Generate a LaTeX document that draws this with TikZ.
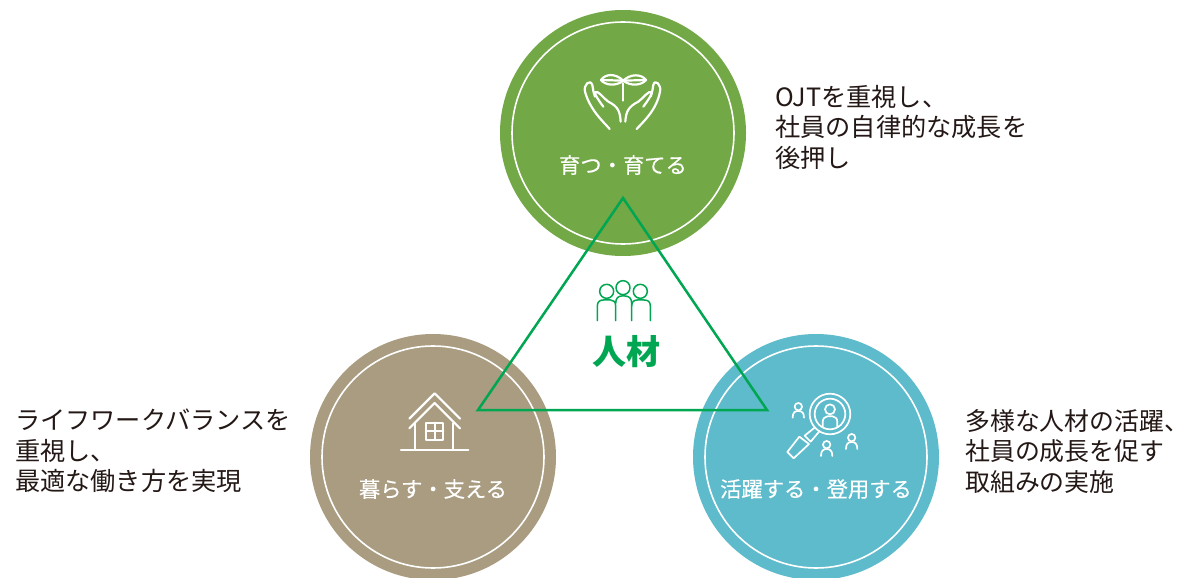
\documentclass[tikz,border=0pt]{standalone}
\usepackage{fontspec}
\setmainfont{Noto Sans CJK JP}
\newfontfamily\medfont[FakeBold=0.35]{Noto Sans CJK JP}
\definecolor{leaf}{HTML}{72A845}
\definecolor{earth}{HTML}{A99C80}
\definecolor{aqua}{HTML}{5DBBCB}
\definecolor{tri}{HTML}{00A651}
\definecolor{ink}{HTML}{231815}
\newcommand{\halfcomma}{\makebox[0.5em][l]{、}}
\tikzset{
  disc/.style={circle,minimum size=246pt,inner sep=0pt},
  ring/.style={circle,draw=white,line width=1.6pt,minimum size=222pt,inner sep=0pt},
  captext/.style={text=white,font=\medfont\fontsize{21.3}{21.3}\selectfont,inner sep=0pt},
  note/.style={text=ink,align=left,anchor=north west,inner sep=0pt,font=\fontsize{25.2}{30.5}\selectfont},
  ico/.style={draw=white,line width=2.2pt,line cap=round,line join=round},
  thin/.style={draw=white,line width=1.7pt,line cap=round,line join=round},
  pico/.style={draw=tri,line width=1.5pt,line cap=round,line join=round},
}
\begin{document}
\begin{tikzpicture}[x=1pt,y=-1pt]
\useasboundingbox (0,0) rectangle (1179,578);
\node[disc,fill=leaf] (top) at (623,133) {};
\node[ring] (topr) at (623,133) {};
\node[disc,fill=earth] (left) at (433,457) {};
\node[ring] (leftr) at (433,457) {};
\node[disc,fill=aqua] (right) at (816,457) {};
\node[ring] (rightr) at (816,457) {};
\coordinate (ta) at (623,198);
\coordinate (tb) at (478,410);
\coordinate (tc) at (767,410);
\draw[tri,line width=2.5pt,line join=miter] (ta) -- (tb) -- (tc) -- cycle;
\node[captext] (capt) at (623,165) {育つ・育てる};
\node[captext] (capl) at (433,489) {暮らす・支える};
\node[captext] (capr) at (816,489) {活躍する・登用する};
\node[text=tri,inner sep=0pt,font=\fontsize{34}{34}\selectfont\bfseries] (jin) at (626,352) {人材};
\node[note] (nt) at (775,85) {OJTを重視し、\\社員の自律的な成長を\\後押し};
\node[note] (nl) at (15,409) {ライフワークバランスを\\重視し、\\最適な働き方を実現};
\node[note,font=\fontsize{24.9}{30.5}\selectfont] (nr) at (965,409) {多様な人材の活躍\halfcomma\\社員の成長を促す\\取組みの実施};
% sprout and hands
\begin{scope}[shift={(540,50)},x=0.3333pt,y=-0.3333pt]
\draw[ico] (250,152) -- (250,100);
\draw[ico] (250,92) .. controls (225,68) and (195,72) .. (183,90) .. controls (195,106) and (228,110) .. (250,92)
  .. controls (272,70) and (305,72) .. (318,90) .. controls (305,106) and (272,110) .. (250,92);
\draw[ico] (183,90) -- (250,92) -- (318,90);
\draw[ico] (209,237) .. controls (190,215) and (150,180) .. (135,125) .. controls (130,105) and (150,85) .. (157,105)
  .. controls (160,120) and (160,130) .. (165,140);
\draw[ico] (190,170) .. controls (175,150) and (165,135) .. (165,127) .. controls (175,120) and (190,145) .. (205,155)
  .. controls (235,170) and (240,185) .. (242,215);
\draw[ico] (290,237) .. controls (310,215) and (350,180) .. (360,125) .. controls (365,105) and (345,85) .. (340,105)
  .. controls (337,120) and (337,130) .. (332,140);
\draw[ico] (310,170) .. controls (325,150) and (335,135) .. (335,127) .. controls (325,120) and (310,145) .. (295,155)
  .. controls (265,170) and (258,185) .. (256,215);
\end{scope}
% people
\begin{scope}[shift={(570,270)},x=0.3333pt,y=-0.3333pt]
\draw[pico] (110,64) circle[radius=7pt];
\draw[pico] (159,53) circle[radius=7pt];
\draw[pico] (211,64) circle[radius=7pt];
\draw[pico] (82,152) -- (82,108) .. controls (82,95) and (90,90) .. (100,90) -- (122,90) .. controls (130,90) and (137,95) .. (137,108) -- (137,152);
\draw[pico] (137,100) .. controls (137,85) and (145,78) .. (155,78) -- (165,78) .. controls (177,78) and (185,85) .. (185,100) -- (185,152);
\draw[pico] (185,108) .. controls (185,95) and (192,90) .. (202,90) -- (222,90) .. controls (234,90) and (241,95) .. (241,108) -- (241,152);
\end{scope}
% house
\begin{scope}[shift={(380,380)},x=0.3333pt,y=-0.3333pt]
\draw[ico] (88,116) -- (164,40) -- (240,116);
\draw[ico] (88,145) -- (164,69) -- (240,145);
\draw[ico] (105,130) -- (105,208);
\draw[ico] (218,130) -- (218,208);
\draw[ico] (63,210) -- (265,210);
\draw[ico] (138,128) rectangle (190,179);
\draw[ico] (164,128) -- (164,179);
\draw[ico] (138,153) -- (190,153);
\end{scope}
% magnifier and people
\begin{scope}[shift={(770,385)},x=0.3333pt,y=-0.3333pt]
\draw[thin] (180,87) circle[radius=20.3pt];
\draw[thin] (180,87) circle[radius=15.3pt];
\draw[thin] (180,73) circle[radius=5pt];
\draw[thin] (158,125) -- (158,112) .. controls (158,100) and (165,95) .. (172,94) -- (188,94) .. controls (196,95) and (202,100) .. (202,112) -- (202,125);
\draw[thin] (135,127) -- (104,152) -- (122,170) -- (148,139);
\draw[thin] (88,155) -- (52,201) -- (71,220) -- (117,177) -- cycle;
\draw[thin] (85,65) circle[radius=3.7pt];
\draw[thin] (68,98) .. controls (68,82) and (75,78) .. (85,78) .. controls (95,78) and (102,82) .. (102,98);
\draw[thin] (170,179) circle[radius=3.7pt];
\draw[thin] (153,213) .. controls (153,197) and (160,192) .. (170,192) .. controls (180,192) and (187,197) .. (187,213);
\draw[thin] (245,158) circle[radius=3.7pt];
\draw[thin] (228,192) .. controls (228,176) and (235,171) .. (245,171) .. controls (255,171) and (262,176) .. (262,192);
\end{scope}
\end{tikzpicture}
\end{document}
